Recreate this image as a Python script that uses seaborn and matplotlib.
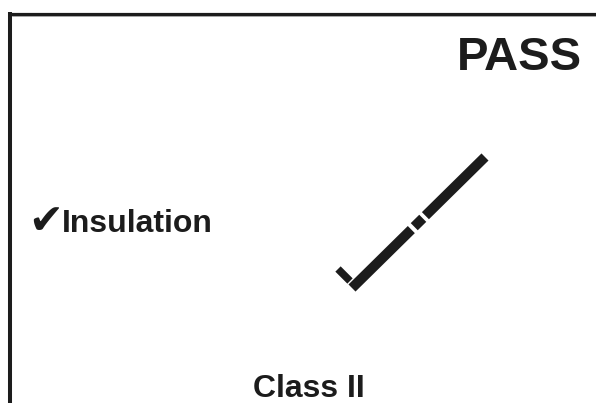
import numpy as np
import pandas as pd
import matplotlib
matplotlib.use("Agg")
import matplotlib.pyplot as plt
import seaborn as sns

# ==========================================================
# Screen data (pixel coordinates of the tester display)
# ==========================================================

result_label = "PASS"
test_name = "Insulation"
class_label = "Class II"

# long arm of the big check mark, split in three pieces
long_x = [352, 485]
long_y = [288, 157]
piece_starts = [0.0, 0.468, 0.552]
piece_ends = [0.446, 0.532, 1.0]

# short arm of the big check mark
short_x = [338, 350]
short_y = [269, 281]

# ==========================================================
# Figure
# ==========================================================

sns.set_style("white")
plt.rcParams["font.family"] = ["Liberation Sans", "DejaVu Sans"]

fig = plt.figure(figsize=(5.96, 4.03), dpi=100)
ax = fig.add_axes([0, 0, 1, 1])
ax.set_xlim(0, 596)
ax.set_ylim(403, 0)
ax.axis("off")

ink = "#1c1c1c"

# frame
ax.plot([8, 596], [13.5, 13.5], color=ink, lw=2.3, solid_capstyle="butt")
ax.plot([10, 10], [12, 403], color=ink, lw=2.9, solid_capstyle="butt")
ax.plot([12, 596], [16.3, 16.3], color="#9a9a9a", lw=0.6)

# big check mark pieces
pieces = []
for i, (a, b) in enumerate(zip(piece_starts, piece_ends)):
    xs = long_x[0] + np.array([a, b]) * (long_x[1] - long_x[0])
    ys = long_y[0] + np.array([a, b]) * (long_y[1] - long_y[0])
    pieces.append(pd.DataFrame({"x": xs, "y": ys, "piece": i}))
check_df = pd.concat(pieces)

for _, grp in check_df.groupby("piece"):
    sns.lineplot(data=grp, x="x", y="y", sort=False, color=ink,
                 linewidth=7.2, solid_capstyle="butt", ax=ax)

sns.lineplot(x=short_x, y=short_y, sort=False, color=ink,
             linewidth=5.4, solid_capstyle="butt", ax=ax)

# texts
ax.text(582, 70, result_label, ha="right", va="baseline",
        fontsize=34, fontweight="bold", color=ink)
ax.text(28, 234, "\u2714", ha="left", va="baseline",
        fontsize=30, color=ink, family=["DejaVu Sans"])
ax.text(62, 232, test_name, ha="left", va="baseline",
        fontsize=23, fontweight="bold", color=ink)
ax.text(309, 397, class_label, ha="center", va="baseline",
        fontsize=23, fontweight="bold", color=ink)

ax.set_xlabel("")
ax.set_ylabel("")

plt.savefig("out.png", dpi=100)
